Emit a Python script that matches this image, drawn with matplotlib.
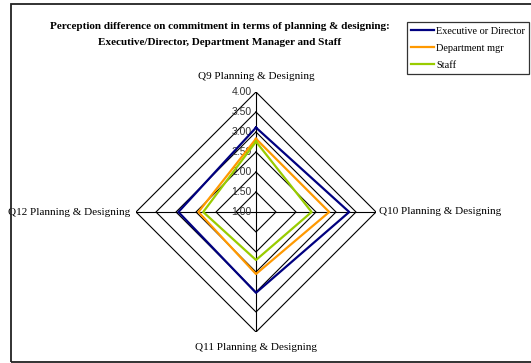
import numpy as np
import matplotlib
matplotlib.use('Agg')
import matplotlib.pyplot as plt
from matplotlib.patches import Rectangle

# Data
categories = ['Q9 Planning & Designing', 'Q10 Planning & Designing',
              'Q11 Planning & Designing', 'Q12 Planning & Designing']
executive = [3.11, 3.33, 3.02, 2.94]
dept_mgr = [2.83, 2.83, 2.55, 2.44]
staff = [2.76, 2.39, 2.20, 2.32]
series_names = ['Executive or Director', 'Department mgr', 'Staff']
series_colors = ['#000080', '#FF9900', '#99CC00']
ring_values = [1.5, 2.0, 2.5, 3.0, 3.5, 4.0]
tick_values = [1.0, 1.5, 2.0, 2.5, 3.0, 3.5, 4.0]

serif = 'Liberation Serif'
sans = 'Liberation Sans'

W, H = 531, 363
fig = plt.figure(figsize=(W / 100, H / 100), dpi=100)

# outer chart frame (runs off the right edge like the original)
fig.patches.append(Rectangle((11 / W, 1 / H), 1.0, (359 - 1) / H,
                             transform=fig.transFigure, fill=False,
                             edgecolor='#222222', linewidth=1.3))

cx, cy, R = 256, 212, 120
ax = fig.add_axes([(cx - R) / W, (H - cy - R) / H, 2 * R / W, 2 * R / H],
                  projection='polar')
ax.set_theta_zero_location('N')
ax.set_theta_direction(-1)
ax.set_ylim(1, 4)
ax.grid(False)
ax.spines['polar'].set_visible(False)
ax.set_xticks([])
ax.set_yticks([])
ax.patch.set_alpha(0)

n = len(categories)
angles = np.arange(n) * 2 * np.pi / n
closed = np.append(angles, angles[0])

# polygon grid and spokes
for r in ring_values:
    ax.plot(closed, [r] * (n + 1), color='black', lw=0.8, zorder=1)
for a in angles:
    ax.plot([a, a], [1, 4], color='black', lw=0.8, zorder=1)

# radial tick labels along the top spoke
for v in tick_values:
    ax.annotate('%.2f' % v, xy=(0, v), xytext=(-3, 0), textcoords='offset points',
                ha='right', va='center', fontsize=7.5, family=sans,
                color='#333333', zorder=2)

for vals, name, col in zip([executive, dept_mgr, staff], series_names, series_colors):
    ax.plot(closed, vals + vals[:1], color=col, lw=1.6, label=name, zorder=3)

# category labels
ax.annotate(categories[0], xy=(angles[0], 4), xytext=(0, 8), textcoords='offset points',
            ha='center', va='bottom', fontsize=8, family=serif)
ax.annotate(categories[1], xy=(angles[1], 4), xytext=(2, 0), textcoords='offset points',
            ha='left', va='center', fontsize=8, family=serif)
ax.annotate(categories[2], xy=(angles[2], 4), xytext=(0, -8), textcoords='offset points',
            ha='center', va='top', fontsize=8, family=serif)
ax.annotate(categories[3], xy=(angles[3], 4), xytext=(-4, 0), textcoords='offset points',
            ha='right', va='center', fontsize=8, family=serif)

fig.text(220 / W, 1 - 34.5 / H,
         'Perception difference on commitment in terms of planning & designing:\n'
         'Executive/Director, Department Manager and Staff',
         ha='center', va='center', fontsize=8, fontweight='bold', family=serif,
         linespacing=1.95)

leg = fig.legend(loc='center', bbox_to_anchor=(468 / W, 1 - 48 / H),
                 prop={'family': serif, 'size': 7.4}, frameon=True, fancybox=False,
                 edgecolor='black', borderpad=0.45, handlelength=2.2,
                 handletextpad=0.2, labelspacing=0.75, borderaxespad=0)
leg.get_frame().set_linewidth(0.9)

fig.savefig('out.png', dpi=100)
